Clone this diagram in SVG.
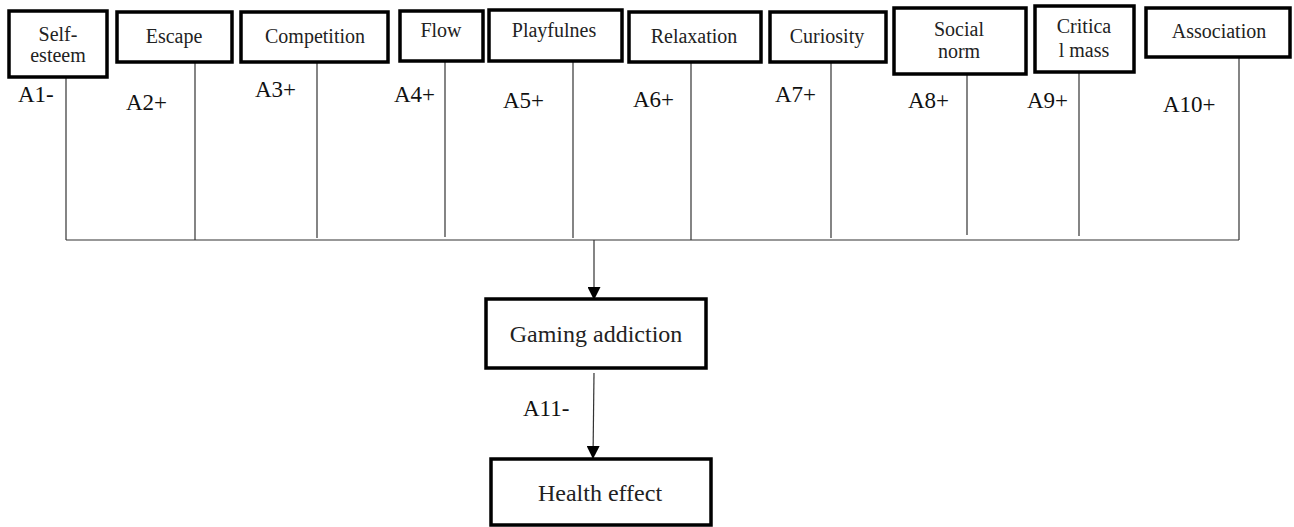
<svg xmlns="http://www.w3.org/2000/svg" width="1294" height="527" viewBox="0 0 1294 527">
<style>
.box{fill:#fff;stroke:#000;stroke-width:3.5}
.t{font-family:"Liberation Serif","Times New Roman",serif;font-size:20px;fill:#222;text-anchor:middle}
.big{font-size:24px}
.lab{font-family:"Liberation Serif","Times New Roman",serif;font-size:23px;fill:#111}
.ln{stroke:#333;stroke-width:1.2;fill:none}
</style>
<defs>
<marker id="ah" viewBox="0 0 10 10" refX="10" refY="5" markerWidth="13" markerHeight="13" markerUnits="userSpaceOnUse" orient="auto">
<path d="M0,0 L10,5 L0,10 z" fill="#000"/>
</marker>
</defs>
<g id="connectors">
<line class="ln" x1="66" y1="77" x2="66" y2="240"/>
<line class="ln" x1="195" y1="62" x2="195" y2="240"/>
<line class="ln" x1="317" y1="58" x2="317" y2="238"/>
<line class="ln" x1="445" y1="61" x2="445" y2="237"/>
<line class="ln" x1="573" y1="61" x2="573" y2="238"/>
<line class="ln" x1="691" y1="62" x2="691" y2="240"/>
<line class="ln" x1="831" y1="58" x2="831" y2="238"/>
<line class="ln" x1="967" y1="74" x2="967" y2="235"/>
<line class="ln" x1="1079" y1="72" x2="1079" y2="236"/>
<line class="ln" x1="1239" y1="58" x2="1239" y2="240"/>
<line class="ln" x1="66" y1="240" x2="1239" y2="240"/>
<line class="ln" x1="594" y1="240" x2="594" y2="300" marker-end="url(#ah)"/>
<line class="ln" x1="594" y1="373" x2="593" y2="459" marker-end="url(#ah)"/>
<text class="lab" x="18" y="102">A1-</text>
<text class="lab" x="126" y="110">A2+</text>
<text class="lab" x="255" y="97">A3+</text>
<text class="lab" x="394" y="102">A4+</text>
<text class="lab" x="503" y="108">A5+</text>
<text class="lab" x="633" y="107">A6+</text>
<text class="lab" x="775" y="102">A7+</text>
<text class="lab" x="908" y="108">A8+</text>
<text class="lab" x="1027" y="108">A9+</text>
<text class="lab" x="1163" y="112">A10+</text>
<text class="lab" x="523" y="416">A11-</text>
</g>
<g id="n-self-esteem"><rect class="box" x="9" y="11" width="98" height="66"/><text class="t" x="58" y="41">Self-</text><text class="t" x="58" y="62">esteem</text></g>
<g id="n-escape"><rect class="box" x="117" y="12" width="115" height="50"/><text class="t" x="174" y="43">Escape</text></g>
<g id="n-competition"><rect class="box" x="241" y="12" width="147" height="50"/><text class="t" x="315" y="43">Competition</text></g>
<g id="n-flow"><rect class="box" x="400" y="11" width="83" height="50"/><text class="t" x="441" y="37">Flow</text></g>
<g id="n-playfulness"><rect class="box" x="489" y="10" width="133" height="51"/><text class="t" x="554" y="37">Playfulnes</text></g>
<g id="n-relaxation"><rect class="box" x="629" y="12" width="132" height="50"/><text class="t" x="694" y="43">Relaxation</text></g>
<g id="n-curiosity"><rect class="box" x="770" y="12" width="116" height="50"/><text class="t" x="827" y="43">Curiosity</text></g>
<g id="n-social-norm"><rect class="box" x="894" y="8" width="132" height="66"/><text class="t" x="959" y="36">Social</text><text class="t" x="959" y="58">norm</text></g>
<g id="n-critical-mass"><rect class="box" x="1035" y="6" width="99" height="66"/><text class="t" x="1084" y="33">Critica</text><text class="t" x="1084" y="57">l mass</text></g>
<g id="n-association"><rect class="box" x="1146" y="8" width="144" height="49"/><text class="t" x="1219" y="38">Association</text></g>
<g id="n-gaming-addiction"><rect class="box" x="486" y="299" width="220" height="69"/><text class="t big" x="596" y="342">Gaming addiction</text></g>
<g id="n-health-effect"><rect class="box" x="491" y="459" width="220" height="66"/><text class="t big" x="600" y="501">Health effect</text></g>
</svg>
